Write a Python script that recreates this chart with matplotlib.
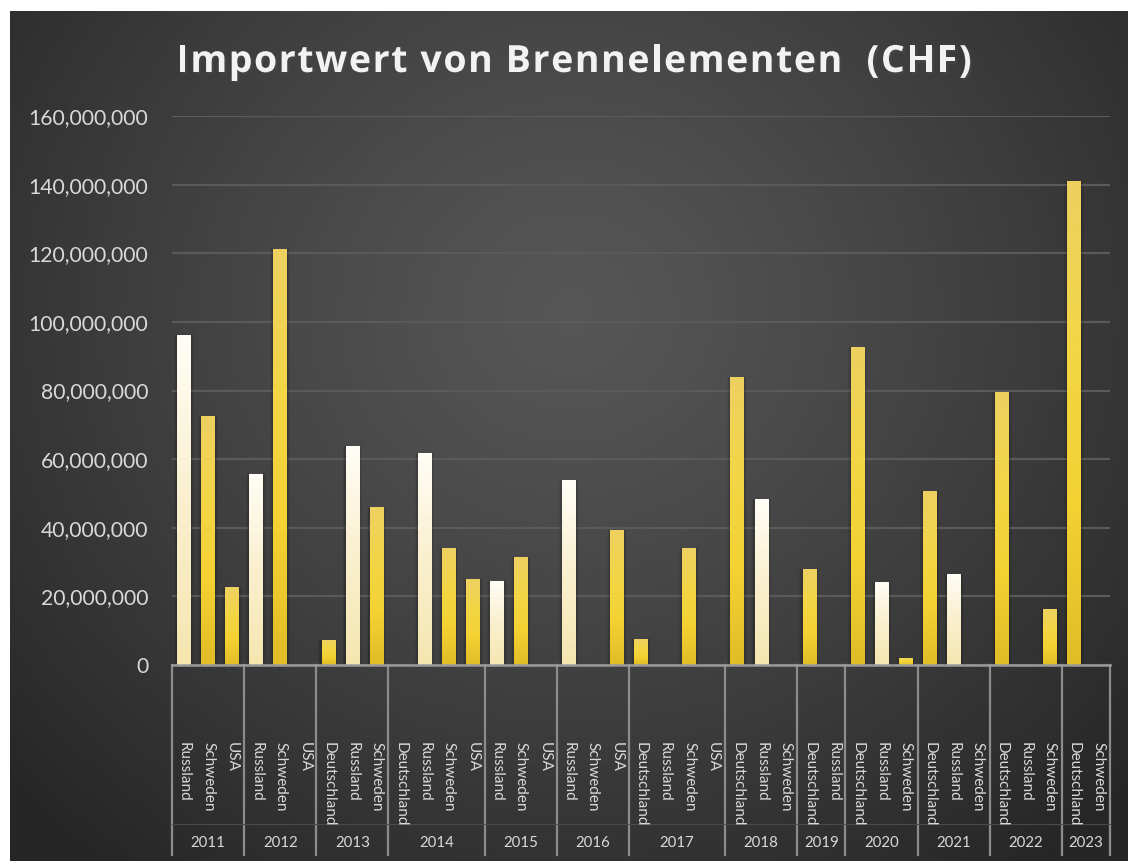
import numpy as np
import matplotlib.pyplot as plt
import matplotlib.patheffects as pe
from matplotlib.colors import LinearSegmentedColormap
from matplotlib.ticker import FuncFormatter
from matplotlib.transforms import blended_transform_factory

# data (CHF)
years = ["2011", "2012", "2013", "2014", "2015", "2016", "2017",
         "2018", "2019", "2020", "2021", "2022", "2023"]
countries = [
    ["Russland", "Schweden", "USA"],
    ["Russland", "Schweden", "USA"],
    ["Deutschland", "Russland", "Schweden"],
    ["Deutschland", "Russland", "Schweden", "USA"],
    ["Russland", "Schweden", "USA"],
    ["Russland", "Schweden", "USA"],
    ["Deutschland", "Russland", "Schweden", "USA"],
    ["Deutschland", "Russland", "Schweden"],
    ["Deutschland", "Russland"],
    ["Deutschland", "Russland", "Schweden"],
    ["Deutschland", "Russland", "Schweden"],
    ["Deutschland", "Russland", "Schweden"],
    ["Deutschland", "Schweden"],
]
values = [
    [96.2e6, 72.6e6, 22.8e6],
    [55.8e6, 121.2e6, 0],
    [7.3e6, 63.9e6, 46.1e6],
    [0, 61.9e6, 34.2e6, 25.1e6],
    [24.4e6, 31.4e6, 0],
    [53.9e6, 0, 39.2e6],
    [7.5e6, 0, 34.0e6, 0],
    [83.9e6, 48.3e6, 0],
    [28.0e6, 0],
    [92.7e6, 24.2e6, 2.1e6],
    [50.7e6, 26.6e6, 0],
    [79.6e6, 0, 16.3e6],
    [141.1e6, 0],
]
title = "Importwert von Brennelementen  (CHF)"

W, H = 1128, 861
fig = plt.figure(figsize=(W / 100, H / 100), dpi=100, facecolor="white")

# dark radial background panel
bg = fig.add_axes([10 / W, 0, 1 - 10 / W, 1 - 11 / H])
bg.set_axis_off()
yy, xx = np.mgrid[0:850, 0:1118]
r = np.sqrt(((xx - 560) / 760.0) ** 2 + ((yy - 300) / 700.0) ** 2)
r = np.clip(r, 0, 1)
shade = 0.34 - 0.19 * r ** 1.2
bg.imshow(np.dstack([shade, shade, shade]), aspect="auto", interpolation="bilinear")

ax = fig.add_axes([172 / W, 1 - 665 / H, (1110 - 172) / W, (665 - 116) / H])
ax.set_facecolor("none")

cream = LinearSegmentedColormap.from_list("cream", ["#f5e6b0", "#faf0cf", "#fffdf6"])
yellow = LinearSegmentedColormap.from_list("yellow", ["#e1bd26", "#f4d232", "#f3d647", "#eed061"])
grad = np.linspace(1, 0, 200).reshape(-1, 1)

labels = []
xs = []
vals = []
bounds = [-0.5]
centers = []
pos = 0
for yr, cs, vs in zip(years, countries, values):
    start = pos
    for c, v in zip(cs, vs):
        labels.append(c)
        xs.append(pos)
        vals.append(v)
        pos += 1
    bounds.append(pos - 0.5)
    centers.append((start + pos - 1) / 2)

# soft shadow behind the bars
for dw, a in [(0.26, 0.05), (0.18, 0.07), (0.10, 0.10)]:
    ax.bar(xs, vals, width=0.56 + dw, color="black", alpha=a, zorder=2.5, linewidth=0)

bars = ax.bar(xs, vals, width=0.56, color="none", zorder=3, linewidth=0)
for b, c in zip(bars, labels):
    h = b.get_height()
    if h <= 0:
        continue
    x0 = b.get_x()
    im = ax.imshow(grad, extent=[x0, x0 + b.get_width(), 0, h], aspect="auto",
                   cmap=cream if c == "Russland" else yellow, zorder=3.5, interpolation="bilinear")
    im.set_clip_path(b)

ax.set_xlim(-0.5, pos - 0.5)
ax.set_ylim(0, 160e6)
ax.set_yticks(np.arange(0, 160e6 + 1, 20e6))
ax.yaxis.set_major_formatter(FuncFormatter(lambda v, p: f"{int(v):,}"))
ax.tick_params(axis="y", length=0, pad=17, labelsize=15.2, labelcolor="#d9d9d9")
for t in ax.get_yticklabels():
    t.set_fontfamily("Lato")
ax.set_xticks([])
ax.grid(axis="y", color="#5a5a5a", linewidth=1.6, zorder=0)
ax.set_axisbelow(True)
for s in ["top", "right", "left"]:
    ax.spines[s].set_visible(False)
ax.spines["bottom"].set_color("#9a9a9a")
ax.spines["bottom"].set_linewidth(1.8)
ax.spines["bottom"].set_zorder(4)

trans = blended_transform_factory(ax.transData, ax.transAxes)
depth = -(855 - 665) / (665 - 116)
for bx in bounds:
    ax.plot([bx, bx], [0, depth], transform=trans, color="#8c8c8c", lw=1.6, clip_on=False)
ax.plot([-0.5, pos - 0.5], [-(824 - 665) / 549] * 2, transform=trans, color="#4a4a4a", lw=0.8, clip_on=False)

for x, c in zip(xs, labels):
    ax.text(x, -(742 - 665) / 549, c, transform=trans, rotation=270, ha="center", va="top",
            fontsize=11, color="#d9d9d9", family="Lato")
for cx, yr in zip(centers, years):
    ax.text(cx, -(843 - 665) / 549, yr, transform=trans, ha="center", va="center",
            fontsize=10.8, color="#d9d9d9", family="Lato")

# title with extra letter spacing, placed char by char
renderer = fig.canvas.get_renderer()
tkw = dict(fontsize=27, fontweight="bold", color="#f2f2f2", family="Open Sans", va="baseline",
           path_effects=[pe.withSimplePatchShadow(offset=(1.5, -1.5), alpha=0.6)])
spacing = 1.6
widths = []
for ch in title:
    if ch == " ":
        t = fig.text(0, 0, "a a", **tkw)
        w_full = t.get_window_extent(renderer).width
        t.remove()
        t = fig.text(0, 0, "aa", **tkw)
        w = w_full - t.get_window_extent(renderer).width
        t.remove()
    else:
        t = fig.text(0, 0, ch, **tkw)
        w = t.get_window_extent(renderer).width
        t.remove()
    widths.append(w + spacing)
total = sum(widths) - spacing
x = 574 - total / 2
for ch, w in zip(title, widths):
    if ch != " ":
        fig.text(x / W, 1 - 72 / H, ch, **tkw)
    x += w

fig.savefig("out.png", dpi=100, facecolor="white")
